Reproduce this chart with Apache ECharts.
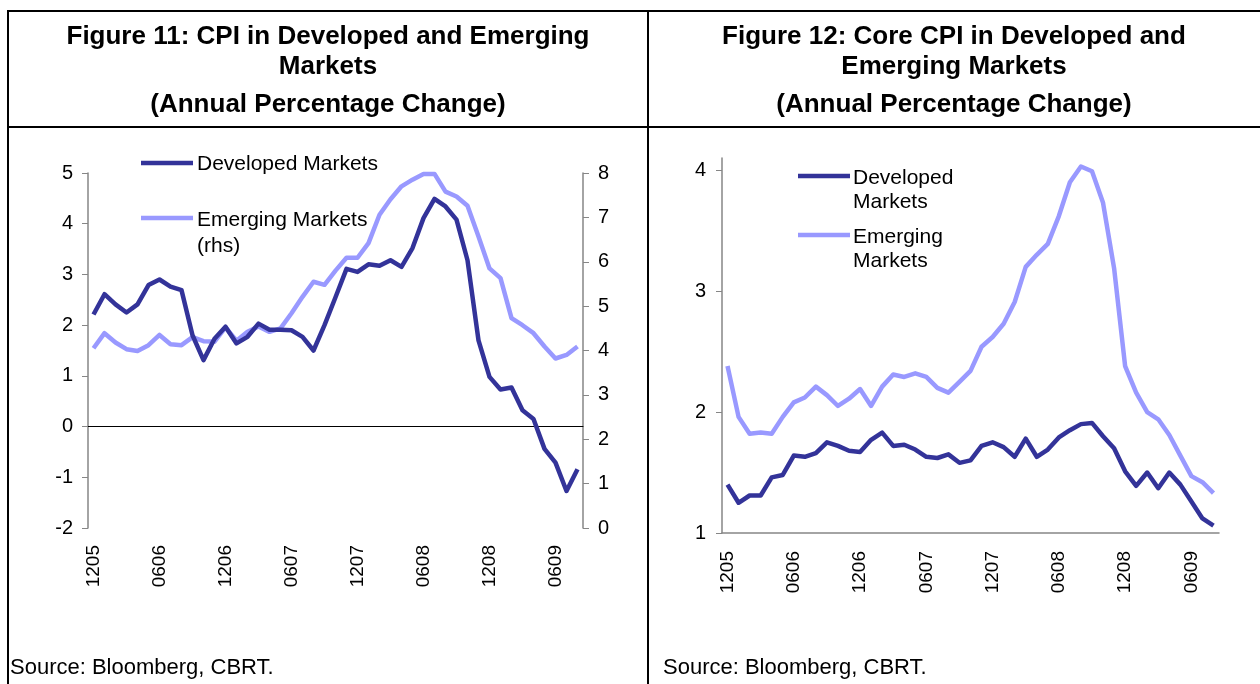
<!DOCTYPE html>
<html>
<head>
<meta charset="utf-8">
<style>
  html, body { margin: 0; padding: 0; background: #fff; }
  #chart { width: 1260px; height: 684px; }
</style>
<script src="https://cdn.jsdelivr.net/npm/echarts@6/dist/echarts.min.js"></script>
</head>
<body>
<div id="chart"></div>
<script>
// months, Dec 2005 .. Aug 2009 (labels shown every 6th)
const categories = [
  '1205', '0106', '0206', '0306', '0406', '0506', '0606', '0706', '0806', '0906', '1006', '1106',
  '1206', '0107', '0207', '0307', '0407', '0507', '0607', '0707', '0807', '0907', '1007', '1107',
  '1207', '0108', '0208', '0308', '0408', '0508', '0608', '0708', '0808', '0908', '1008', '1108',
  '1208', '0109', '0209', '0309', '0409', '0509', '0609', '0709', '0809'
]

// Figure 11: headline CPI
const cpiDeveloped = [
  2.21, 2.61, 2.41, 2.25, 2.41, 2.79, 2.90, 2.76, 2.69, 1.80,
  1.31, 1.73, 1.97, 1.64, 1.77, 2.03, 1.91, 1.91, 1.90, 1.77,
  1.50, 2.00, 2.55, 3.11, 3.05, 3.20, 3.17, 3.28, 3.15, 3.52,
  4.11, 4.49, 4.34, 4.08, 3.28, 1.70, 0.98, 0.73, 0.77, 0.32,
  0.15, -0.44, -0.71, -1.27, -0.84
]
const cpiEmerging = [ // rhs
  4.05, 4.39, 4.18, 4.03, 3.99, 4.12, 4.35, 4.14, 4.12, 4.30,
  4.21, 4.20, 4.52, 4.22, 4.42, 4.54, 4.42, 4.50, 4.84, 5.21,
  5.55, 5.48, 5.80, 6.09, 6.09, 6.42, 7.06, 7.41, 7.70, 7.85,
  7.98, 7.98, 7.58, 7.47, 7.26, 6.57, 5.85, 5.63, 4.73, 4.57,
  4.39, 4.09, 3.82, 3.90, 4.09
]

// Figure 12: core CPI
const coreDeveloped = [
  1.40, 1.25, 1.31, 1.31, 1.46, 1.48, 1.64, 1.63, 1.66, 1.75,
  1.72, 1.68, 1.67, 1.77, 1.83, 1.72, 1.73, 1.69, 1.63, 1.62,
  1.65, 1.58, 1.60, 1.72, 1.75, 1.71, 1.63, 1.78, 1.63, 1.69,
  1.79, 1.85, 1.90, 1.91, 1.80, 1.70, 1.51, 1.39, 1.50, 1.37,
  1.50, 1.40, 1.26, 1.12, 1.06
]
const coreEmerging = [
  2.38, 1.96, 1.82, 1.83, 1.82, 1.96, 2.08, 2.12, 2.21, 2.14,
  2.05, 2.11, 2.19, 2.05, 2.21, 2.31, 2.29, 2.32, 2.29, 2.20,
  2.16, 2.25, 2.34, 2.54, 2.62, 2.73, 2.91, 3.20, 3.30, 3.39,
  3.62, 3.90, 4.03, 3.99, 3.73, 3.19, 2.38, 2.16, 2.00, 1.94,
  1.81, 1.64, 1.47, 1.42, 1.33
]

const leftTicks = [-2, -1, 0, 1, 2, 3, 4, 5]
const rhsTicks = [0, 1, 2, 3, 4, 5, 6, 7, 8]
const coreTicks = [1, 2, 3, 4]

const DARK = '#333399'
const LIGHT = '#9999ff'
const AXIS_GREY = '#868686'
const FONT = "'Liberation Sans', Arial, Helvetica, sans-serif"
const LINE_W = 4.5

const chart = echarts.init(document.getElementById('chart'))

const tickLabel = { color: '#000', fontFamily: FONT, fontSize: 20 }

function catAxisLabel(margin) {
  return { ...tickLabel, fontSize: 19, interval: 5, rotate: 90, margin: margin }
}

function hLine(x1, y1, x2, y2) {
  return { type: 'line', shape: { x1, y1, x2, y2 }, style: { stroke: '#000', lineWidth: 2 }, silent: true }
}
function txt(text, x, y, font, align) {
  return {
    type: 'text',
    style: { text, x, y, font, fill: '#000', align: align || 'left', verticalAlign: 'middle' },
    silent: true
  }
}
function legendLine(x, y, color) {
  return { type: 'line', shape: { x1: x, y1: y, x2: x + 52, y2: y }, style: { stroke: color, lineWidth: LINE_W }, silent: true }
}

const headFont = 'bold 26px ' + FONT
const legendFont = '21px ' + FONT

chart.setOption({
  animation: false,
  backgroundColor: '#fff',
  grid: [
    { left: 88, top: 173, width: 495, height: 355 },
    { left: 722, top: 158, width: 497, height: 375 }
  ],
  xAxis: [
    {
      gridIndex: 0,
      type: 'category',
      data: categories,
      position: 'bottom',
      boundaryGap: true,
      axisLine: { show: false, onZero: false },
      axisTick: { show: false },
      axisLabel: catAxisLabel(17)
    },
    {
      gridIndex: 0,
      type: 'category',
      data: categories,
      position: 'top',
      boundaryGap: true,
      axisLine: { onZero: true, onZeroAxisIndex: 0, lineStyle: { color: '#000', width: 1 } },
      axisTick: { interval: 5, inside: true, length: 6, lineStyle: { color: '#000' } },
      axisLabel: { show: false }
    },
    {
      gridIndex: 1,
      type: 'category',
      data: categories,
      position: 'bottom',
      boundaryGap: true,
      axisLine: { lineStyle: { color: AXIS_GREY, width: 1.5 } },
      axisTick: { interval: 5, length: 6, lineStyle: { color: '#000' } },
      axisLabel: catAxisLabel(18)
    }
  ],
  yAxis: [
    {
      gridIndex: 0,
      type: 'value',
      min: leftTicks[0],
      max: leftTicks[leftTicks.length - 1],
      interval: 1,
      splitLine: { show: false },
      axisLine: { show: true, lineStyle: { color: AXIS_GREY, width: 1.5 } },
      axisTick: { show: true, length: 6, lineStyle: { color: AXIS_GREY } },
      axisLabel: { ...tickLabel, margin: 15 }
    },
    {
      gridIndex: 0,
      type: 'value',
      position: 'right',
      min: rhsTicks[0],
      max: rhsTicks[rhsTicks.length - 1],
      interval: 1,
      splitLine: { show: false },
      axisLine: { show: true, lineStyle: { color: AXIS_GREY, width: 1.5 } },
      axisTick: { show: true, length: 6, lineStyle: { color: AXIS_GREY } },
      axisLabel: { ...tickLabel, margin: 15 }
    },
    {
      gridIndex: 1,
      type: 'value',
      min: coreTicks[0],
      max: 4.1,
      interval: 1,
      splitLine: { show: false },
      axisLine: { show: true, lineStyle: { color: AXIS_GREY, width: 1.5 } },
      axisTick: { show: true, length: 6, lineStyle: { color: AXIS_GREY }, customValues: coreTicks },
      axisLabel: { ...tickLabel, margin: 16, customValues: coreTicks }
    }
  ],
  series: [
    {
      name: 'Developed Markets',
      type: 'line',
      xAxisIndex: 0,
      yAxisIndex: 0,
      data: cpiDeveloped,
      showSymbol: false,
      lineStyle: { color: DARK, width: LINE_W, join: 'round' },
      z: 3
    },
    {
      name: 'Emerging Markets (rhs)',
      type: 'line',
      xAxisIndex: 0,
      yAxisIndex: 1,
      data: cpiEmerging,
      showSymbol: false,
      lineStyle: { color: LIGHT, width: LINE_W, join: 'round' },
      z: 2
    },
    {
      name: 'Core Developed Markets',
      type: 'line',
      xAxisIndex: 2,
      yAxisIndex: 2,
      data: coreDeveloped,
      showSymbol: false,
      lineStyle: { color: DARK, width: LINE_W, join: 'round' }
    },
    {
      name: 'Core Emerging Markets',
      type: 'line',
      xAxisIndex: 2,
      yAxisIndex: 2,
      data: coreEmerging,
      showSymbol: false,
      lineStyle: { color: LIGHT, width: LINE_W, join: 'round' }
    }
  ],
  graphic: [
    // frame
    hLine(8, 11, 1260, 11),
    hLine(8, 127, 1260, 127),
    hLine(8, 10, 8, 684),
    hLine(648, 10, 648, 684),
    // headers
    txt('Figure 11: CPI in Developed and Emerging', 328, 37, headFont, 'center'),
    txt('Markets', 328, 67, headFont, 'center'),
    txt('(Annual Percentage Change)', 328, 105, headFont, 'center'),
    txt('Figure 12: Core CPI in Developed and', 954, 37, headFont, 'center'),
    txt('Emerging Markets', 954, 67, headFont, 'center'),
    txt('(Annual Percentage Change)', 954, 105, headFont, 'center'),
    // legends
    legendLine(141, 163, DARK),
    txt('Developed Markets', 197, 164, legendFont),
    legendLine(141, 218, LIGHT),
    txt('Emerging Markets', 197, 220, legendFont),
    txt('(rhs)', 197, 246, legendFont),
    legendLine(798, 176, DARK),
    txt('Developed', 853, 178, legendFont),
    txt('Markets', 853, 202, legendFont),
    legendLine(798, 235, LIGHT),
    txt('Emerging', 853, 237, legendFont),
    txt('Markets', 853, 261, legendFont),
    // sources
    txt('Source: Bloomberg, CBRT.', 10, 668, '22px ' + FONT),
    txt('Source: Bloomberg, CBRT.', 663, 668, '22px ' + FONT)
  ]
})
</script>
</body>
</html>
